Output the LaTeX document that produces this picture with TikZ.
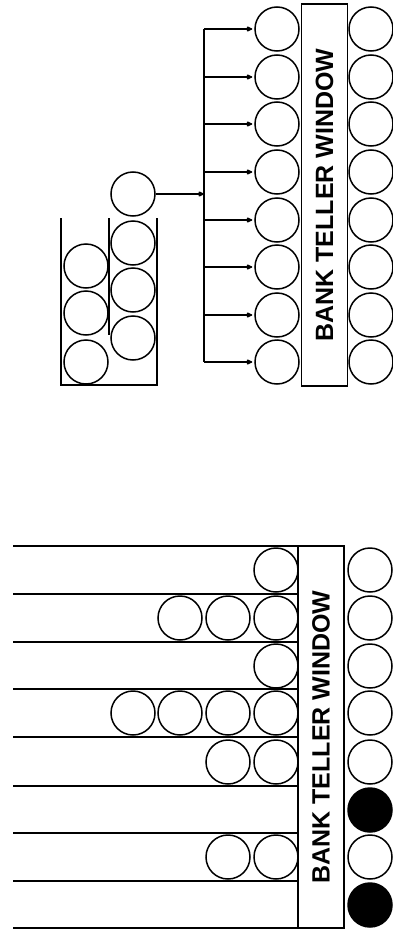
\documentclass[tikz,border=0pt]{standalone}
\usepackage{fontspec}
\newfontfamily\tellerfont{Liberation Sans}
\usepackage{tikz}
\usetikzlibrary{positioning,arrows.meta}

\tikzset{
  cust/.style={circle, draw, line width=1.5pt, minimum size=44pt, inner sep=0pt},
  idle/.style={cust, fill=black},
  window/.style={draw, line width=1.5pt, rotate=90, minimum width=382pt, minimum height=46pt,
    inner sep=0pt, font=\tellerfont\bfseries\fontsize{25}{25}\selectfont},
  feed/.style={line width=1.5pt, -{Latex[round, length=7pt, width=6.5pt]}},
  wall/.style={line width=1.5pt}
}

\begin{document}
\begin{tikzpicture}[x=1pt, y=-1pt]
\useasboundingbox (0,0) rectangle (393,934);

\begin{scope}
    % single line feeding all tellers
    \node[window] (win1) at (324.5,195) {BANK TELLER WINDOW};

    \node[cust] (a1) at (277,29) {};
    \node[cust] (a2) at (277,77) {};
    \node[cust] (a3) at (277,124) {};
    \node[cust] (a4) at (277,172) {};
    \node[cust] (a5) at (277,220) {};
    \node[cust] (a6) at (277,267) {};
    \node[cust] (a7) at (277,315) {};
    \node[cust] (a8) at (277,362) {};

    \node[cust] (b1) at (371,29) {};
    \node[cust] (b2) at (371,77) {};
    \node[cust] (b3) at (371,124) {};
    \node[cust] (b4) at (371,172) {};
    \node[cust] (b5) at (371,220) {};
    \node[cust] (b6) at (371,267) {};
    \node[cust] (b7) at (371,315) {};
    \node[cust] (b8) at (371,362) {};

    \coordinate (f1) at (204,29);
    \coordinate (f2) at (204,77);
    \coordinate (f3) at (204,124);
    \coordinate (f4) at (204,172);
    \coordinate (f5) at (204,220);
    \coordinate (f6) at (204,267);
    \coordinate (f7) at (204,315);
    \coordinate (f8) at (204,362);
    \coordinate (fj) at (204,194);

    \draw[wall] (f1) -- (f8);
    \draw[feed, shorten >=2pt] (f1) -- (a1.west);
    \draw[feed, shorten >=2pt] (f2) -- (a2.west);
    \draw[feed, shorten >=2pt] (f3) -- (a3.west);
    \draw[feed, shorten >=2pt] (f4) -- (a4.west);
    \draw[feed, shorten >=2pt] (f5) -- (a5.west);
    \draw[feed, shorten >=2pt] (f6) -- (a6.west);
    \draw[feed, shorten >=2pt] (f7) -- (a7.west);
    \draw[feed, shorten >=2pt] (f8) -- (a8.west);

    \node[cust] (next) at (133,194) {};
    \draw[feed] (next.east) -- (fj);

    % serpentine queue
    \draw[wall] (61,218) -- (61,385) -- (157,385) -- (157,218);
    \draw[wall] (109,218) -- (109,335);

    \node[cust] (q1) at (133,243) {};
    \node[cust] (q2) at (133,290) {};
    \node[cust] (q3) at (133,338) {};
    \node[cust] (q4) at (86,362) {};
    \node[cust] (q5) at (86,313) {};
    \node[cust] (q6) at (86,266) {};
\end{scope}

\begin{scope}
    % one line per teller
    \node[window] (win2) at (321,737) {BANK TELLER WINDOW};

    \draw[wall] (13,546) -- (298,546);
    \draw[wall] (13,594) -- (298,594);
    \draw[wall] (13,642) -- (298,642);
    \draw[wall] (13,689) -- (298,689);
    \draw[wall] (13,737) -- (298,737);
    \draw[wall] (13,786) -- (298,786);
    \draw[wall] (13,833) -- (298,833);
    \draw[wall] (13,881) -- (298,881);
    \draw[wall] (13,928) -- (298,928);

    \node[cust] (l1a) at (276,570) {};
    \node[cust] (l2a) at (276,618) {};
    \node[cust] (l2b) at (228,618) {};
    \node[cust] (l2c) at (180,618) {};
    \node[cust] (l3a) at (276,666) {};
    \node[cust] (l4a) at (276,713) {};
    \node[cust] (l4b) at (228,713) {};
    \node[cust] (l4c) at (180,713) {};
    \node[cust] (l4d) at (133,713) {};
    \node[cust] (l5a) at (276,762) {};
    \node[cust] (l5b) at (228,762) {};
    \node[cust] (l7a) at (276,857) {};
    \node[cust] (l7b) at (228,857) {};

    \node[cust] (c1) at (370,570) {};
    \node[cust] (c2) at (370,618) {};
    \node[cust] (c3) at (370,666) {};
    \node[cust] (c4) at (370,713) {};
    \node[cust] (c5) at (370,762) {};
    \node[idle] (c6) at (370,810) {};
    \node[cust] (c7) at (370,857) {};
    \node[idle] (c8) at (370,905) {};
\end{scope}
\end{tikzpicture}
\end{document}
